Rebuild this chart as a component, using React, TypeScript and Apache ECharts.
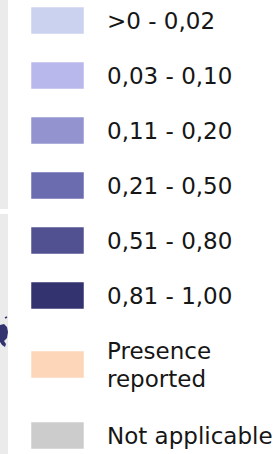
import React, { useEffect, useRef } from "react";
import * as echarts from "echarts";

const categories = [">0 - 0,02", "0,03 - 0,10", "0,11 - 0,20", "0,21 - 0,50", "0,51 - 0,80", "0,81 - 1,00", "Presence\nreported", "Not applicable"];
const colors = ["#cbd2f0", "#b8b8ec", "#9393cf", "#6b6bb0", "#515192", "#33336f", "#fdd6b9", "#cccccc"];

export default function App() {
  const ref = useRef<HTMLDivElement>(null);
  useEffect(() => {
    if (!ref.current) return;
    const chart = echarts.init(ref.current, null, { renderer: "svg" });
    const elements: any[] = [];
    // left strip (neighbouring panel)
    elements.push({ type: "rect", shape: { x: 0, y: 0, width: 8, height: 209 }, style: { fill: "#ebebeb" } });
    elements.push({ type: "rect", shape: { x: 0, y: 214, width: 8, height: 240 }, style: { fill: "#ebebeb" } });
    elements.push({
      type: "polygon",
      shape: { points: [[0, 325], [4, 324], [7, 327], [8, 332], [7, 338], [4, 341], [6, 344], [5, 347], [2, 345], [0, 342]] },
      style: { fill: "#33336f" },
    });
    elements.push({ type: "line", shape: { x1: 5, y1: 318, x2: 7, y2: 317 }, style: { stroke: "#33336f", lineWidth: 1.5 } });

    let y = 7;
    categories.forEach((label, i) => {
      const lines = label.split("\n").length;
      if (lines > 1) y += 14;
      elements.push({
        type: "rect",
        shape: { x: 31, y, width: 53, height: 27 },
        style: { fill: colors[i], stroke: "rgba(255,255,255,0.5)", lineWidth: 1 },
      });
      elements.push({
        type: "text",
        x: 107,
        y: y + 14,
        style: {
          text: label,
          fontFamily: "DejaVu Sans",
          fontSize: 23,
          lineHeight: 28,
          fill: "#161616",
          verticalAlign: "middle",
          align: "left",
        },
      });
      y += 55;
      if (lines > 1) y += 16;
    });

    chart.setOption({
      animation: false,
      backgroundColor: "#ffffff",
      graphic: { elements },
    });
    return () => chart.dispose();
  }, []);
  return <div ref={ref} style={{ position: "fixed", left: 0, top: 0, width: 277, height: 454 }} />;
}
